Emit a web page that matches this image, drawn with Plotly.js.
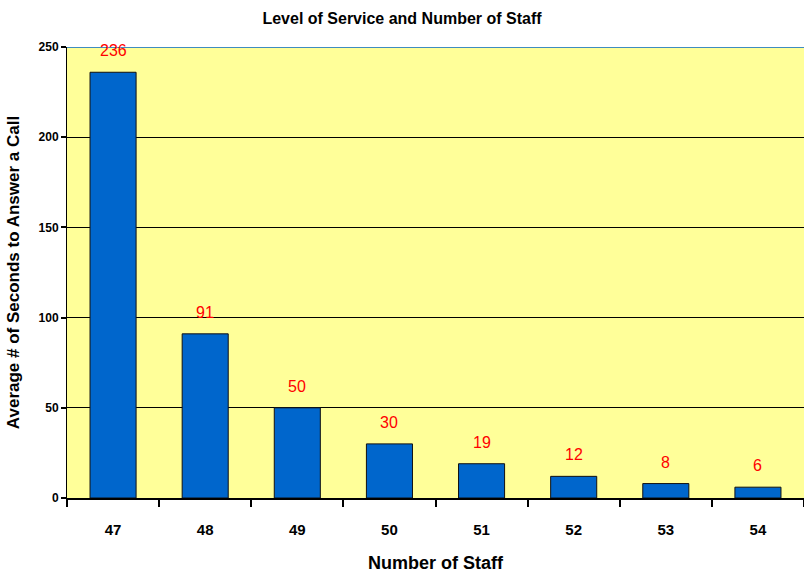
<!DOCTYPE html>
<html>
<head>
<meta charset="utf-8">
<script src="https://cdn.plot.ly/plotly-3.0.1.min.js"></script>
<style>html,body{margin:0;padding:0;background:#fff;}#chart{width:804px;height:573px;}</style>
</head>
<body>
<div id="chart"></div>
<script>
var staff = ["47", "48", "49", "50", "51", "52", "53", "54"];
var seconds = [236, 91, 50, 30, 19, 12, 8, 6];
var yTicks = [0, 50, 100, 150, 200, 250];

var boldFont = "'Liberation Sans Narrow', 'Arial Narrow', 'Liberation Sans', Arial, sans-serif";

var trace = {
  type: "bar",
  x: staff,
  y: seconds,
  width: 0.5,
  marker: {color: "#0066CC", line: {color: "#111111", width: 1}},
  hoverinfo: "none"
};

var annotations = staff.map(function (s, i) {
  return {
    x: i, y: seconds[i], xref: "x", yref: "y",
    text: String(seconds[i]), showarrow: false,
    yanchor: "bottom", yshift: 11,
    font: {color: "#FF0000", size: 16, family: "'Liberation Sans', Arial, sans-serif"}
  };
});

var layout = {
  width: 804, height: 573,
  margin: {l: 67, r: 0, t: 47, b: 75},
  paper_bgcolor: "#FFFFFF",
  plot_bgcolor: "#FFFF99",
  showlegend: false,
  title: {
    text: "<b>Level of Service and Number of Staff</b>",
    x: 0.5, xanchor: "center", y: 0.968, yanchor: "middle",
    font: {family: boldFont, size: 16, color: "#000"}
  },
  xaxis: {
    type: "category",
    range: [-0.5, staff.length - 0.5],
    tickson: "boundaries",
    tickangle: 0,
    ticks: "outside", ticklen: 7, tickwidth: 2, tickcolor: "#000",
    showline: true, linecolor: "#000", linewidth: 2,
    showgrid: false,
    ticklabelstandoff: 17,
    tickfont: {family: boldFont, size: 15, color: "#000", weight: "bold"},
    title: {text: "<b>Number of Staff</b>", standoff: 19,
            font: {family: boldFont, size: 18, color: "#000"}}
  },
  yaxis: {
    range: [0, 250],
    tickvals: yTicks,
    ticktext: yTicks.map(String),
    ticks: "outside", ticklen: 5, tickwidth: 2, tickcolor: "#000",
    showline: true, linecolor: "#000", linewidth: 1,
    showgrid: true, gridcolor: "#000", gridwidth: 1.3,
    zeroline: false,
    tickfont: {family: boldFont, size: 12, color: "#000", weight: "bold"},
    title: {text: "<b>Average # of Seconds to Answer a Call</b>", standoff: 14,
            font: {family: boldFont, size: 17, color: "#000"}}
  },
  shapes: [{
    type: "line", xref: "paper", yref: "y", x0: 0, x1: 1, y0: 250, y1: 250,
    line: {color: "#0066CC", width: 1.5}
  }],
  annotations: annotations
};

Plotly.newPlot("chart", [trace], layout, {displayModeBar: false, staticPlot: true});
</script>
</body>
</html>
